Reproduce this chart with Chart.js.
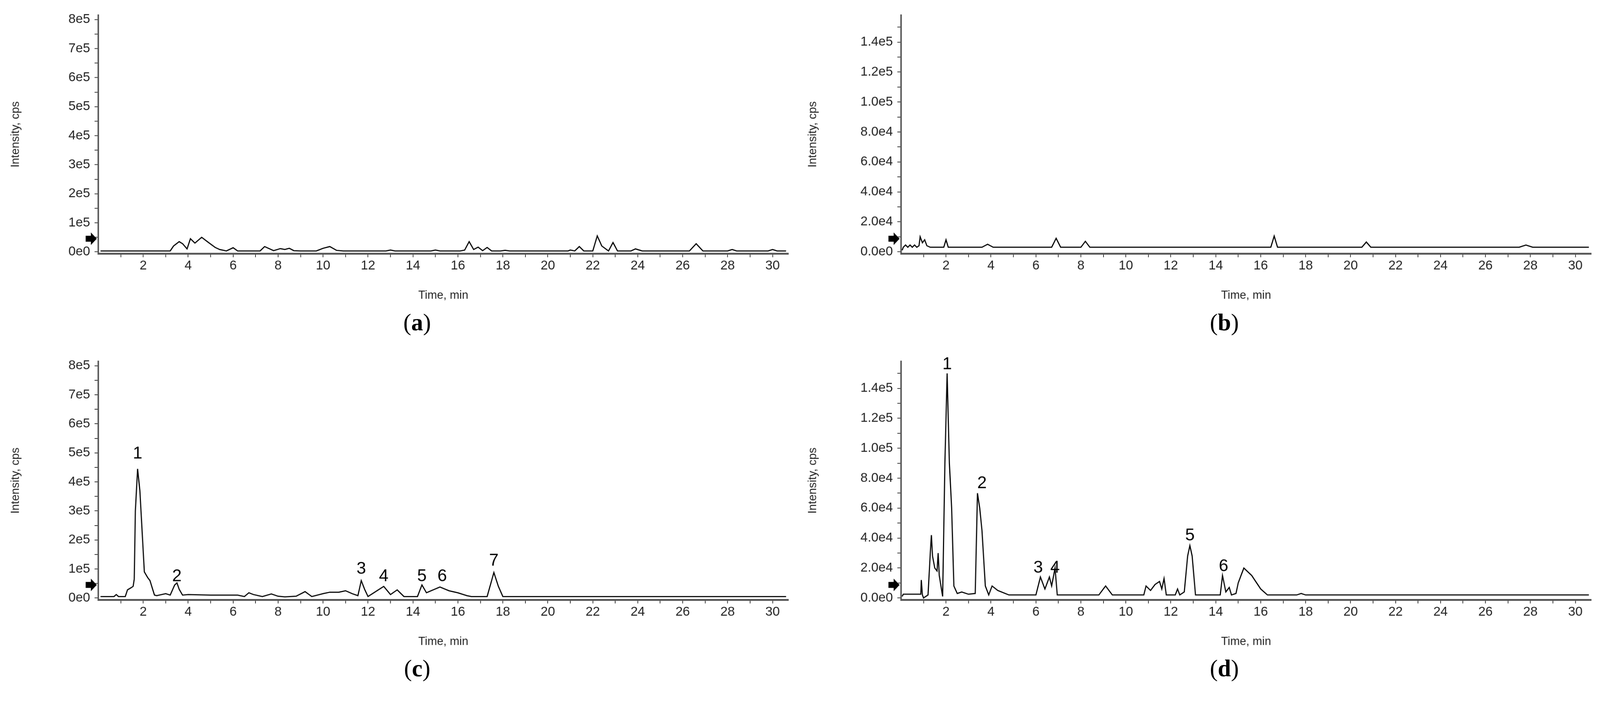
<!DOCTYPE html>
<html><head><meta charset="utf-8">
<script src="https://cdn.jsdelivr.net/npm/chart.js@4"></script>
<style>
html,body{margin:0;background:#fff;overflow:hidden}
#wrap{width:4315px;height:1849px;position:relative;transform-origin:0 0}
canvas{position:absolute}
.pl{position:absolute;font-family:"Liberation Serif",serif;font-size:64px;color:#000;transform:translateX(-50%);line-height:1}
</style></head><body>
<div id="wrap">
<canvas id="ca" style="left:0;top:0" width="2150" height="820"></canvas>
<canvas id="cb" style="left:2150px;top:0" width="2165" height="820"></canvas>
<canvas id="cc" style="left:0;top:934px" width="2150" height="820"></canvas>
<canvas id="cd" style="left:2150px;top:934px" width="2165" height="820"></canvas>
<div class="pl" style="left:1125px;top:838px">(<b>a</b>)</div>
<div class="pl" style="left:3302px;top:838px">(<b>b</b>)</div>
<div class="pl" style="left:1125px;top:1772px">(<b>c</b>)</div>
<div class="pl" style="left:3302px;top:1772px">(<b>d</b>)</div>
</div>
<script>
// ---- data ----
const timesA=[0.1,3.2,3.35,3.6,3.75,3.95,4.1,4.3,4.6,4.8,5.2,5.4,5.7,6.0,6.2,7.2,7.4,7.8,8.1,8.3,8.5,8.7,9.0,9.7,10.0,10.3,10.6,10.9,12.8,13.0,13.2,14.8,15.0,15.2,16.1,16.3,16.5,16.7,16.9,17.1,17.3,17.5,17.9,18.1,18.3,20.9,21.0,21.2,21.4,21.6,22.0,22.2,22.4,22.7,22.9,23.1,23.7,23.9,24.2,26.3,26.6,26.9,28.0,28.2,28.4,29.8,30.0,30.2,30.6];
const valsA=[3000,3000,20000,35000,28000,10000,45000,30000,50000,38000,15000,8000,3000,14000,3000,3000,18000,4000,11000,8000,12000,4000,3000,3000,12000,18000,5000,3000,3000,6000,3000,3000,6000,3000,3000,6000,35000,8000,16000,4000,15000,3000,3000,5000,3000,3000,6000,3000,18000,3000,3000,55000,20000,3000,32000,3000,3000,10000,3000,3000,28000,3000,3000,8000,3000,3000,8000,3000,3000];
const timesB=[0.05,0.1,0.2,0.3,0.4,0.5,0.6,0.7,0.8,0.85,0.95,1.05,1.15,1.3,1.9,2.0,2.1,2.6,3.6,3.85,4.1,6.7,6.9,7.1,8.0,8.2,8.4,16.45,16.6,16.75,20.5,20.7,20.9,27.5,27.8,28.1,30.6];
const valsB=[1000,3000,4500,3000,4500,3000,4500,3000,4000,10000,6000,8000,4000,3000,3000,8000,3000,3000,3000,5000,3000,3000,9000,3000,3000,7000,3000,3000,10500,3000,3000,6500,3000,3000,4500,3000,3000];
const timesC=[0.1,0.7,0.8,0.9,1.2,1.3,1.45,1.55,1.6,1.65,1.75,1.85,1.95,2.05,2.2,2.3,2.5,2.6,3.0,3.2,3.4,3.5,3.6,3.75,4.0,5.0,6.2,6.5,6.7,6.9,7.3,7.7,8.0,8.3,8.8,9.2,9.5,10.0,10.3,10.7,11.0,11.3,11.55,11.7,11.85,12.0,12.7,13.0,13.3,13.6,14.2,14.4,14.6,15.2,15.6,16.0,16.4,16.6,17.3,17.6,17.8,18.0,30.6];
const valsC=[5000,5000,12000,5000,5000,28000,35000,40000,65000,300000,445000,370000,230000,90000,70000,60000,10000,8000,15000,10000,45000,52000,30000,10000,12000,10000,10000,5000,18000,12000,5000,14000,6000,4000,6000,22000,5000,15000,20000,20000,25000,15000,8000,60000,30000,5000,40000,12000,28000,5000,5000,45000,18000,38000,25000,18000,8000,5000,5000,88000,40000,5000,5000];
const timesD=[0.05,0.1,0.88,0.9,0.95,1.0,1.2,1.3,1.35,1.4,1.5,1.6,1.65,1.7,1.85,1.95,2.05,2.15,2.25,2.35,2.5,2.7,3.0,3.3,3.4,3.5,3.6,3.75,3.9,4.05,4.3,4.8,6.0,6.2,6.4,6.6,6.7,6.85,6.95,8.8,9.1,9.4,10.8,10.9,11.1,11.3,11.5,11.6,11.7,11.8,12.2,12.3,12.4,12.6,12.75,12.85,12.95,13.1,14.2,14.3,14.45,14.6,14.7,14.9,15.0,15.25,15.6,16.0,16.3,17.6,17.8,18.0,30.6];
const valsD=[1000,2500,2500,12000,2000,0,2000,30000,42000,28000,20000,18000,30000,15000,1000,90000,150000,90000,60000,8000,3000,4000,2500,3000,70000,60000,45000,8000,2000,8000,5000,2000,2000,14000,6000,14000,8000,20000,2000,2000,8000,2000,2000,8000,5000,9000,11000,6000,13000,2000,2000,6000,2000,4000,28000,35000,28000,2000,2000,15000,4000,7000,2000,3000,10000,20000,15000,6000,2000,2000,3000,2000,2000];
const peaksC=[[1.75,497000,'1'],[3.5,74000,'2'],[11.7,100000,'3'],[12.7,74000,'4'],[14.4,74000,'5'],[15.3,74000,'6'],[17.6,128000,'7']];
const peaksD=[[2.05,156000,'1'],[3.6,76500,'2'],[6.1,20000,'3'],[6.85,20000,'4'],[12.85,41500,'5'],[14.35,21000,'6']];
const xMajor=[2,4,6,8,10,12,14,16,18,20,22,24,26,28,30];
const yTicksBig=[0,1e5,2e5,3e5,4e5,5e5,6e5,7e5,8e5];
const yTicksSmall=[0,2e4,4e4,6e4,8e4,1e5,1.2e5,1.4e5];

const sc=window.innerWidth/4315;
if(Math.abs(sc-1)>0.005)document.getElementById('wrap').style.transform='scale('+sc+')';

const F='"Liberation Sans", Arial, sans-serif';
const pts=(t,v)=>t.map((x,i)=>({x:x,y:v[i]}));
function fmtBig(v){if(v===0)return '0e0';return Math.round(v/1e5)+'e5';}
function fmtSmall(v){if(v===0)return '0.0e0';if(v>=1e5)return (v/1e5).toFixed(1)+'e5';return (v/1e4).toFixed(1)+'e4';}

const deco={id:'deco',afterDraw(ch){
  const c=ch.ctx,a=ch.chartArea,xs=ch.scales.x,ys=ch.scales.y;
  const ay=a.bottom-40,ax=a.left-4;
  c.save();c.fillStyle='#000';c.beginPath();
  c.moveTo(ax,ay);c.lineTo(ax-16,ay-17);c.lineTo(ax-16,ay-8);c.lineTo(ax-30,ay-8);
  c.lineTo(ax-30,ay+8);c.lineTo(ax-16,ay+8);c.lineTo(ax-16,ay+17);c.closePath();c.fill();
  const pk=ch.options.plugins.deco.peaks||[];
  c.font='46px '+F;c.textAlign='center';c.textBaseline='middle';
  pk.forEach(p=>c.fillText(p[2],xs.getPixelForValue(p[0]),ys.getPixelForValue(p[1])));
  c.restore();
}};

function make(id,t,v,ymin,ymax,yt,minorStep,fmt,peaks,yw){
  new Chart(document.getElementById(id),{
    type:'line',
    data:{datasets:[{data:pts(t,v),borderColor:'#000',borderWidth:3,pointRadius:0,tension:0,fill:false}]},
    options:{responsive:false,animation:false,devicePixelRatio:1,
      layout:{padding:{top:41,right:24,left:0,bottom:0}},
      plugins:{legend:{display:false},tooltip:{enabled:false},deco:{peaks:peaks}},
      scales:{
        x:{type:'linear',min:0,max:30.7,
          afterBuildTicks:s=>{const a=[];for(let i=1;i<=30;i++)a.push({value:i});s.ticks=a;},
          afterFit:s=>{s.height=136;},
          ticks:{autoSkip:false,maxRotation:0,font:{family:F,size:35},color:'#222',padding:2,
            callback:v=>xMajor.includes(v)?String(v):''},
          grid:{drawOnChartArea:false,tickLength:10,color:'#333',lineWidth:2},
          border:{color:'#555',width:5},
          title:{display:true,text:'Time, min',font:{family:F,size:31},color:'#222',padding:{top:2}}},
        y:{min:ymin,max:ymax,
          afterBuildTicks:s=>{const a=[];for(let x=0;x<=ymax+1;x+=minorStep)a.push({value:x});s.ticks=a;},
          afterFit:s=>{s.width=yw;},
          ticks:{autoSkip:false,font:{family:F,size:35},color:'#222',padding:12,
            callback:v=>yt.some(q=>Math.abs(q-v)<1)?fmt(v):''},
          grid:{drawOnChartArea:false,tickLength:10,color:'#333',lineWidth:2},
          border:{color:'#555',width:4},
          title:{display:true,text:'Intensity, cps',font:{family:F,size:31},color:'#222',padding:{top:24,bottom:0}}}
      }},
    plugins:[deco]});
}
make('ca',timesA,valsA,-6000,815000,yTicksBig,5e4,fmtBig,[],265);
make('cb',timesB,valsB,-1200,158000,yTicksSmall,1e4,fmtSmall,[],280);
make('cc',timesC,valsC,-6000,815000,yTicksBig,5e4,fmtBig,peaksC,265);
make('cd',timesD,valsD,-1200,158000,yTicksSmall,1e4,fmtSmall,peaksD,280);
</script></body></html>
